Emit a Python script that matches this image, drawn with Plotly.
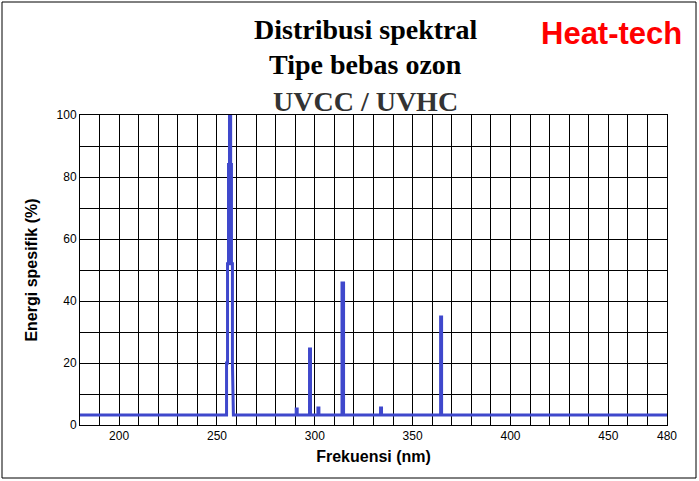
import plotly.graph_objects as go

# spectrum (nm, %)
wavelength = [180, 254.9, 254.9, 255.4, 255.4, 255.9, 255.9, 256.4, 256.4, 257.0, 257.0, 257.4, 257.4, 257.9, 257.9, 258.4,
              290.5, 290.5, 291.0, 291.0, 297.3, 297.3, 297.8, 297.8, 301.6, 301.6, 302.1, 302.1,
              313.9, 313.9, 314.7, 314.7, 333.6, 333.6, 334.1, 334.1, 364.3, 364.3, 364.8, 364.8, 480]
energy = [3.2, 3.2, 20, 20, 52, 52, 84, 84, 100, 100, 84, 84, 52, 52, 20, 3.2,
          3.2, 5.2, 5.2, 3.2, 3.2, 24.5, 24.5, 3.2, 3.2, 5.5, 5.5, 3.2,
          3.2, 45.8, 45.8, 3.2, 3.2, 5.5, 5.5, 3.2, 3.2, 34.8, 34.8, 3.2, 3.2]

x_ticks = [200, 250, 300, 350, 400, 450, 480]
y_ticks = [0, 20, 40, 60, 80, 100]

L, R, T, B = 80, 32, 115, 56
PW, PH = 699 - L - R, 481 - T - B


def px(xp, yp):
    return (xp - L) / PW, (481 - B - yp) / PH


fig = go.Figure()
fig.add_scatter(x=wavelength, y=energy, mode="lines", line=dict(color="#3f48cc", width=3), showlegend=False)

axis_font = dict(family="Liberation Sans", size=12, color="black")
fig.update_xaxes(range=[180, 480], tickvals=x_ticks, showgrid=True, gridcolor="black", gridwidth=1,
                 showline=True, linecolor="black", mirror=True, ticks="", zeroline=False,
                 minor=dict(dtick=10, showgrid=True, gridcolor="black", gridwidth=1),
                 tickfont=axis_font,
                 title=dict(text="<b>Frekuensi (nm)</b>", font=dict(family="Liberation Sans", size=16, color="black"), standoff=8))
fig.update_yaxes(range=[0, 100], tickvals=y_ticks, showgrid=True, gridcolor="black", gridwidth=1,
                 showline=True, linecolor="black", mirror=True, ticks="", zeroline=False,
                 minor=dict(dtick=10, showgrid=True, gridcolor="black", gridwidth=1),
                 tickfont=axis_font,
                 title=dict(text="<b>Energi spesifik (%)</b>", font=dict(family="Liberation Sans", size=16, color="black"), standoff=14))

for txt, ypx, col in [("<b>Distribusi spektral</b>", 29, "black"), ("<b>Tipe bebas ozon</b>", 65, "black"), ("<b>UVCC / UVHC</b>", 101, "#333333")]:
    xa, ya = px(365, ypx)
    fig.add_annotation(text=txt, x=xa, y=ya, xref="paper", yref="paper", showarrow=False,
                       xanchor="center", yanchor="middle", font=dict(family="Liberation Serif", size=28, color=col))
xa, ya = px(684, 33)
fig.add_annotation(text="<b>Heat-tech</b>", x=xa, y=ya, xref="paper", yref="paper", showarrow=False,
                   xanchor="right", yanchor="middle", font=dict(family="Liberation Sans Narrow, Liberation Sans", size=31, color="#ff0000"))

x0, y1 = px(2, 2)
x1, y0 = px(696, 478)
fig.add_shape(type="rect", xref="paper", yref="paper", x0=x0, x1=x1, y0=y0, y1=y1,
              line=dict(color="black", width=1))

fig.update_layout(width=699, height=481, margin=dict(l=L, r=R, t=T, b=B),
                  plot_bgcolor="white", paper_bgcolor="white")
fig.write_html("out.html", config={"displayModeBar": False}, post_script="document.body.style.margin='0';")
